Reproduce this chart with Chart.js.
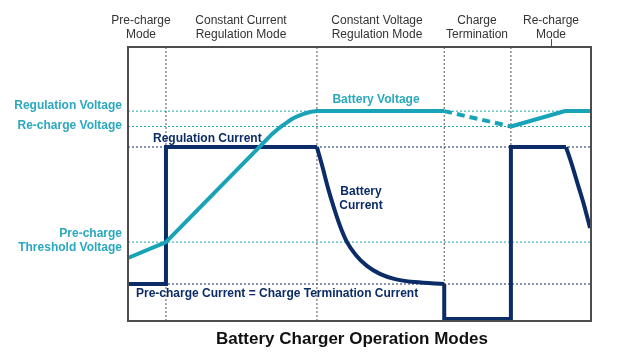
<!DOCTYPE html>
<html>
<head>
<meta charset="utf-8">
<script src="https://cdn.jsdelivr.net/npm/chart.js@4/dist/chart.umd.min.js"></script>
<style>
  html, body { margin: 0; padding: 0; background: #ffffff; }
  #wrap { width: 624px; height: 360px; }
</style>
</head>
<body>
<div id="wrap"><canvas id="c" width="624" height="360"></canvas></div>
<script>
// ---- Data (time axis 0..100, level axis 0..100, arbitrary units) ----
const modeBoundaries = [8.2, 40.8, 68.3, 82.7];
const modeLabels = [
  ["Pre-charge", "Mode"],
  ["Constant Current", "Regulation Mode"],
  ["Constant Voltage", "Regulation Mode"],
  ["Charge", "Termination"],
  ["Re-charge", "Mode"]
];
const voltageLevels = [76.6, 71.0, 28.8];   // regulation, re-charge, pre-charge threshold
const voltageLevelLabels = [["Regulation Voltage"], ["Re-charge Voltage"], ["Pre-charge", "Threshold Voltage"]];
const currentLevels = [63.5, 13.5];         // regulation current, pre-charge/termination current

// Battery voltage
const vChargeX = [0, 8.2, 31.1, 32.4, 33.5, 34.6, 35.6, 36.7, 37.8, 38.9, 40.0, 40.8, 68.3];
const vChargeY = [23.0, 28.8, 68.2, 70.1, 71.5, 72.8, 73.9, 74.8, 75.5, 76.1, 76.5, 76.6, 76.6];
const vTermX = [68.3, 82.7];
const vTermY = [76.6, 71.0];
const vRechargeX = [82.7, 94.4, 100];
const vRechargeY = [71.0, 76.6, 76.6];

// Battery current
const iStep1X = [0, 8.2, 8.2, 40.8];
const iStep1Y = [13.5, 13.5, 63.5, 63.5];
const iDecay1X = [40.8, 41.9, 43.2, 44.5, 45.8, 47.3, 49.2, 51.6, 54.4, 57.7, 62.0, 68.3];
const iDecay1Y = [63.5, 56.9, 48.5, 41.2, 34.7, 28.8, 24.1, 20.1, 17.2, 15.3, 14.2, 13.5];
const iStep2X = [68.3, 68.3, 82.7, 82.7, 94.6];
const iStep2Y = [13.5, 0.7, 0.7, 63.5, 63.5];
const iDecay2X = [94.6, 95.9, 97.2, 98.5, 99.8];
const iDecay2Y = [63.5, 56.9, 49.6, 42.3, 33.9];

const TEAL = '#19a3b6';
const TEAL_TXT = '#2aa8bf';
const NAVY = '#0c2c68';
const GRID = '#555555';

const pts = (xs, ys) => xs.map((x, i) => ({ x: x, y: ys[i] }));

const datasets = [];
function line(xs, ys, color, extra) {
  datasets.push(Object.assign({
    data: pts(xs, ys), showLine: true, borderColor: color, borderWidth: 4,
    pointRadius: 0, fill: false, tension: 0, borderJoinStyle: 'miter',
    borderCapStyle: 'butt', order: 0, clip: false
  }, extra || {}));
}
line(vChargeX, vChargeY, TEAL, { borderJoinStyle: 'round' });
line(vTermX, vTermY, TEAL, { borderDash: [8, 5] });
line(vRechargeX, vRechargeY, TEAL);
line(iStep1X, iStep1Y, NAVY);
line(iDecay1X, iDecay1Y, NAVY, { cubicInterpolationMode: 'monotone' });
line(iStep2X, iStep2Y, NAVY);
line(iDecay2X, iDecay2Y, NAVY, { cubicInterpolationMode: 'monotone' });

// guide lines
modeBoundaries.forEach(b => datasets.push({
  data: [{ x: b, y: 0 }, { x: b, y: 100 }], showLine: true, borderColor: GRID,
  borderWidth: 1, borderDash: [2, 2], pointRadius: 0, order: 5
}));
voltageLevels.forEach(v => datasets.push({
  data: [{ x: 0, y: v }, { x: 100, y: v }], showLine: true, borderColor: TEAL,
  borderWidth: 1, borderDash: [2, 2], pointRadius: 0, order: 5
}));
currentLevels.forEach(v => datasets.push({
  data: [{ x: 0, y: v }, { x: 100, y: v }], showLine: true, borderColor: NAVY,
  borderWidth: 1, borderDash: [2, 2], pointRadius: 0, order: 5
}));

const FONT = '"Liberation Sans", Arial, sans-serif';

const decor = {
  id: 'decor',
  afterDatasetsDraw(chart) {
    const ctx = chart.ctx;
    const a = chart.chartArea;
    ctx.save();
    // frame
    ctx.strokeStyle = '#4d4d4d';
    ctx.lineWidth = 2;
    ctx.strokeRect(a.left, a.top, a.right - a.left, a.bottom - a.top);
    // small tick above "Re-charge Mode"
    ctx.lineWidth = 1;
    ctx.beginPath();
    ctx.moveTo(551.5, 39); ctx.lineTo(551.5, a.top);
    ctx.stroke();

    // mode labels
    ctx.fillStyle = '#333333';
    ctx.font = '12px ' + FONT;
    ctx.textAlign = 'center';
    ctx.textBaseline = 'middle';
    const modeCx = [141, 241, 377, 477, 551];
    modeLabels.forEach((lbl, i) => {
      ctx.fillText(lbl[0], modeCx[i], 21);
      ctx.fillText(lbl[1], modeCx[i], 35);
    });

    // left voltage labels
    ctx.fillStyle = TEAL_TXT;
    ctx.font = 'bold 12px ' + FONT;
    ctx.textAlign = 'right';
    ctx.fillText(voltageLevelLabels[0][0], 122, 106);
    ctx.fillText(voltageLevelLabels[1][0], 122, 126);
    ctx.fillText(voltageLevelLabels[2][0], 122, 234);
    ctx.fillText(voltageLevelLabels[2][1], 122, 248);

    // in-plot labels
    ctx.textAlign = 'center';
    ctx.fillText('Battery Voltage', 376, 100);
    ctx.fillStyle = NAVY;
    ctx.fillText('Battery', 361, 192);
    ctx.fillText('Current', 361, 206);
    ctx.textAlign = 'left';
    ctx.fillText('Regulation Current', 153, 139);
    ctx.fillText('Pre-charge Current = Charge Termination Current', 136, 294);

    // title
    ctx.fillStyle = '#111111';
    ctx.font = 'bold 17px ' + FONT;
    ctx.textAlign = 'center';
    ctx.fillText('Battery Charger Operation Modes', 352, 339);
    ctx.restore();
  }
};

new Chart(document.getElementById('c'), {
  type: 'scatter',
  data: { datasets: datasets },
  options: {
    responsive: false,
    animation: false,
    layout: { padding: { left: 128, top: 47, right: 33, bottom: 39 } },
    plugins: { legend: { display: false }, tooltip: { enabled: false } },
    scales: {
      x: { type: 'linear', min: 0, max: 100, display: false },
      y: { type: 'linear', min: 0, max: 100, display: false }
    }
  },
  plugins: [decor]
});
</script>
</body>
</html>
